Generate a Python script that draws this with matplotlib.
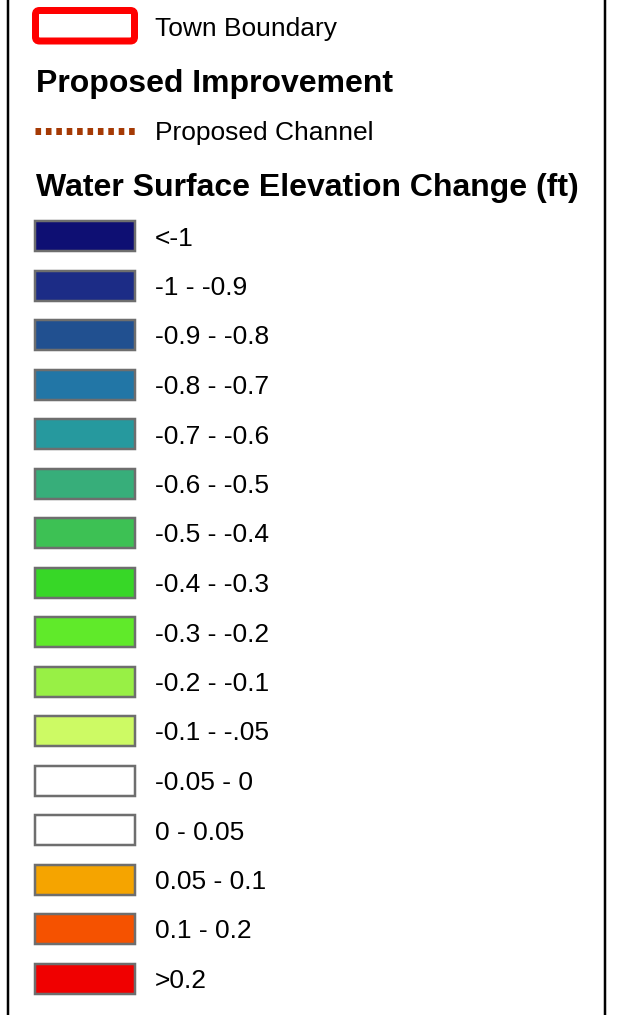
import matplotlib.pyplot as plt
from matplotlib.patches import Rectangle, FancyBboxPatch

plt.rcParams['font.family'] = ['Liberation Sans', 'DejaVu Sans']

# legend classes for water surface elevation change (ft)
labels = ['<-1', '-1 - -0.9', '-0.9 - -0.8', '-0.8 - -0.7', '-0.7 - -0.6',
          '-0.6 - -0.5', '-0.5 - -0.4', '-0.4 - -0.3', '-0.3 - -0.2',
          '-0.2 - -0.1', '-0.1 - -.05', '-0.05 - 0', '0 - 0.05',
          '0.05 - 0.1', '0.1 - 0.2', '>0.2']
colors = ['#0e0f73', '#1c2c86', '#215090', '#2276a6', '#26999e',
          '#37ae7a', '#3dc154', '#37d727', '#60ea2a', '#98f045',
          '#cdfa64', '#ffffff', '#ffffff', '#f5a400', '#f55200',
          '#f00000']

W, H = 622, 1015
fig = plt.figure(figsize=(W / 100, H / 100), dpi=100)
ax = fig.add_axes([0, 0, 1, 1])
ax.set_xlim(0, W)
ax.set_ylim(H, 0)
ax.axis('off')

px = 0.72  # points per pixel
fs = 19    # regular label size
fb = 23    # bold heading size

# outer frame (top and bottom run off the picture)
ax.add_patch(Rectangle((8, -20), 597, H + 40, fill=False, ec='black', lw=2.5 * px))

# town boundary
ax.add_patch(FancyBboxPatch((35.5, 10.5), 99, 30.5, boxstyle='round,pad=0,rounding_size=4',
                            fc='white', ec='#ff0000', lw=7 * px))
ax.text(155, 36, 'Town Boundary', fontsize=fs, va='baseline')

ax.text(36, 92, 'Proposed Improvement', fontsize=fb, fontweight='bold', va='baseline')

# proposed channel
ax.plot([35, 135.5], [130.5, 130.5], color='#a53a05', lw=7 * px,
        dashes=(5.6 / 7, 4.8 / 7), solid_capstyle='butt', dash_capstyle='butt')
ax.text(155, 140, 'Proposed Channel', fontsize=fs, va='baseline')

ax.text(36, 196, 'Water Surface Elevation Change (ft)', fontsize=fb,
        fontweight='bold', va='baseline')

y0, step = 236, 49.5
for i, (lab, col) in enumerate(zip(labels, colors)):
    y = y0 + i * step
    ax.add_patch(Rectangle((35, y - 15), 100, 30, fc=col, ec='#6e6e6e', lw=2.5 * px))
    ax.text(155, y + 9.5, lab, fontsize=fs, va='baseline')

fig.savefig('out.png', dpi=100)
